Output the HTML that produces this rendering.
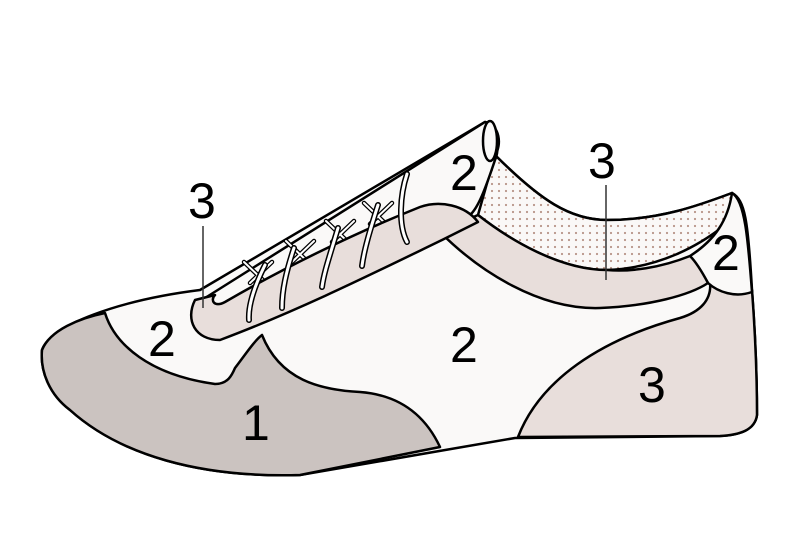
<!DOCTYPE html>
<html><head><meta charset="utf-8"><style>
html,body{margin:0;padding:0;background:#fff}
svg{display:block}
text{font-family:"Liberation Sans",sans-serif;font-size:50px;fill:#000}
</style></head><body>
<svg width="801" height="535" viewBox="0 0 801 535" xmlns="http://www.w3.org/2000/svg">
<defs>
<pattern id="dots" width="7" height="7" patternUnits="userSpaceOnUse">
<rect width="7" height="7" fill="#faf8f7"/><circle cx="2" cy="2" r="1.1" fill="#b89488"/>
</pattern>
</defs>
<g stroke="#000" stroke-width="2.5" stroke-linejoin="round">
<path d="M42 350 C50 325 120 300 200 290 L485 122 C500 125 502 145 495 155 C540 200 570 220 607 220 C660 220 700 205 732 193 C745 200 748 220 752 290 C755 330 757 380 757 415 C755 430 740 435 720 436 L515 438 L300 475 C200 478 120 455 70 410 C50 395 40 372 42 350 Z" fill="#faf9f8"/>
<path d="M42 350 C50 330 80 318 105 313 C115 345 150 375 215 384 C228 384 232 375 235 368 C245 355 255 340 262 335 C280 380 320 390 360 392 C400 395 425 415 440 447 L300 475 C200 478 120 455 70 410 C50 395 40 372 42 350 Z" fill="#cbc3c0"/>
<path d="M518 437 C540 380 600 340 680 318 C700 312 712 300 710 282 C725 290 740 295 752 290 C755 330 757 380 757 415 C755 430 740 435 720 436 Z" fill="#e8dedb"/>
<path d="M495 155 C540 200 570 220 607 220 C660 220 700 205 732 193 C738 205 735 215 725 225 C700 245 660 268 607 270 C560 270 510 240 478 215 Z" fill="url(#dots)"/>
<path d="M690 256 C715 240 728 220 732 193 C745 200 748 240 752 292 C735 298 718 292 708 283 C700 270 695 262 690 256 Z" fill="#faf9f8"/>
<path d="M440 232 C480 272 540 310 600 308 C650 306 690 295 708 283 C700 268 694 260 690 256 C660 268 630 272 607 270 C560 270 510 240 478 215 Z" fill="#e8dedb"/>
<path d="M205 298 L485 122 C498 125 500 150 495 160 C485 190 478 208 470 215 L230 320 Z" fill="#faf9f8"/>
<ellipse cx="490" cy="141" rx="7" ry="20" fill="#faf9f8"/>
</g>
<!-- lace crossings -->
<g fill="none" stroke="#000" stroke-width="4.5" stroke-linecap="round">
<path d="M244 262 L266 283 M250 283 L272 262 M286 241 L308 262 M292 262 L314 241 M326 221 L348 242 M332 242 L354 221 M364 203 L386 224 M370 224 L392 203"/>
</g>
<g fill="none" stroke="#fff" stroke-width="2" stroke-linecap="round">
<path d="M244 262 L266 283 M250 283 L272 262 M286 241 L308 262 M292 262 L314 241 M326 221 L348 242 M332 242 L354 221 M364 203 L386 224 M370 224 L392 203"/>
</g>
<path d="M195 300 C185 320 195 340 220 340 C300 310 380 270 442 240 L478 222 C465 205 440 200 420 207 C350 235 280 270 225 302 C214 308 210 300 215 295 Z" fill="#e8dedb" stroke="#000" stroke-width="2.5" stroke-linejoin="round"/>
<g fill="none" stroke="#000" stroke-width="6" stroke-linecap="round">
<path d="M407 174 C400 195 398 225 407 242"/><path d="M378 205 C370 230 364 250 362 266"/><path d="M338 228 C330 255 324 272 322 287"/><path d="M294 248 C286 272 282 290 282 308"/><path d="M265 265 C255 285 248 305 249 320"/>
</g>
<g fill="none" stroke="#fff" stroke-width="3" stroke-linecap="round">
<path d="M407 174 C400 195 398 225 407 242"/><path d="M378 205 C370 230 364 250 362 266"/><path d="M338 228 C330 255 324 272 322 287"/><path d="M294 248 C286 272 282 290 282 308"/><path d="M265 265 C255 285 248 305 249 320"/>
</g>
<line x1="203" y1="226" x2="203" y2="308" stroke="#333" stroke-width="1.5"/>
<line x1="606" y1="185" x2="606" y2="280" stroke="#333" stroke-width="1.5"/>
<text x="188" y="218">3</text>
<text x="588" y="178">3</text>
<text x="450" y="190">2</text>
<text x="712" y="270">2</text>
<text x="148" y="356">2</text>
<text x="450" y="362">2</text>
<text x="638" y="402">3</text>
<text x="242" y="440">1</text>
</svg>
</body></html>
